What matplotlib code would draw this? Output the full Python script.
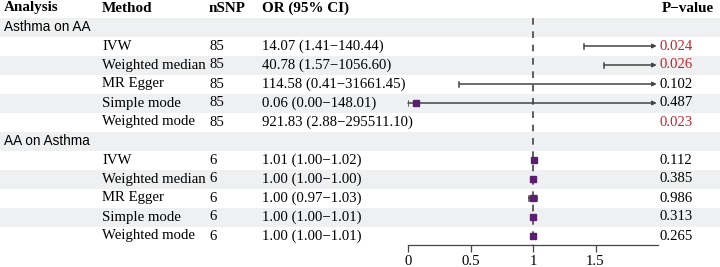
import matplotlib
matplotlib.use("Agg")
import matplotlib.pyplot as plt
from matplotlib.patches import Rectangle

# ---------------- data ----------------
groups = ["Asthma on AA", "AA on Asthma"]
methods = ["IVW", "Weighted median", "MR Egger", "Simple mode", "Weighted mode"]
nsnp_g1 = [85, 85, 85, 85, 85]
nsnp_g2 = [6, 6, 6, 6, 6]
or_g1 = [14.07, 40.78, 114.58, 0.06, 921.83]
lo_g1 = [1.41, 1.57, 0.41, 0.00, 2.88]
hi_g1 = [140.44, 1056.60, 31661.45, 148.01, 295511.10]
or_g2 = [1.01, 1.00, 1.00, 1.00, 1.00]
lo_g2 = [1.00, 1.00, 0.97, 1.00, 1.00]
hi_g2 = [1.02, 1.00, 1.03, 1.01, 1.01]
ortxt_g1 = ["14.07 (1.41\u2212140.44)", "40.78 (1.57\u22121056.60)",
            "114.58 (0.41\u221231661.45)", "0.06 (0.00\u2212148.01)",
            "921.83 (2.88\u2212295511.10)"]
ortxt_g2 = ["1.01 (1.00\u22121.02)", "1.00 (1.00\u22121.00)", "1.00 (0.97\u22121.03)",
            "1.00 (1.00\u22121.01)", "1.00 (1.00\u22121.01)"]
p_g1 = ["0.024", "0.026", "0.102", "0.487", "0.023"]
p_g2 = ["0.112", "0.385", "0.986", "0.313", "0.265"]
headers = ["Analysis", "Method", "nSNP", "OR (95% CI)", "P\u2212value"]
xticks = [0, 0.5, 1, 1.5]

# ---------------- layout ----------------
W, H = 720, 267
serif = ["Liberation Serif", "DejaVu Serif"]
sans = ["Liberation Sans", "DejaVu Sans"]
fs = 10.6
row_h = 19
row0 = 27
col_x = {"analysis": 4, "method": 102, "nsnp": 209, "or": 262, "p": 660}
band_col = "#eef0f2"
red = "#c0262d"
purple = "#5a1f6e"
grey = "#444444"
xmax = 2.0

fig = plt.figure(figsize=(W / 100, H / 100), dpi=100)
bg = fig.add_axes([0, 0, 1, 1])
bg.set_xlim(0, W)
bg.set_ylim(H, 0)
bg.axis("off")

rows = []
rows.append(dict(kind="group", label=groups[0]))
for i in range(5):
    rows.append(dict(kind="item", m=methods[i], n=nsnp_g1[i], t=ortxt_g1[i], p=p_g1[i],
                     est=or_g1[i], lo=lo_g1[i], hi=hi_g1[i]))
rows.append(dict(kind="group", label=groups[1]))
for i in range(5):
    rows.append(dict(kind="item", m=methods[i], n=nsnp_g2[i], t=ortxt_g2[i], p=p_g2[i],
                     est=or_g2[i], lo=lo_g2[i], hi=hi_g2[i]))

ycent = [row0 + row_h * i for i in range(len(rows))]

for i, y in enumerate(ycent):
    if i % 2 == 0:
        bg.add_patch(Rectangle((0, y - row_h / 2), W, row_h, color=band_col, lw=0, zorder=0))

hy = 8
for key, h in zip(["analysis", "method", "nsnp", "or"], headers[:4]):
    bg.text(col_x[key], hy, h, fontfamily=serif, fontweight="bold", fontsize=fs + 0.3,
            va="center", ha="left")
bg.text(col_x["p"] + 2, hy, headers[4], fontfamily=serif, fontweight="bold", fontsize=fs + 0.3,
        va="center", ha="left")

for r, y in zip(rows, ycent):
    if r["kind"] == "group":
        bg.text(col_x["analysis"], y, r["label"], fontfamily=sans, fontsize=9.8,
                va="center", ha="left")
    else:
        bg.text(col_x["method"], y, r["m"], fontfamily=serif, fontsize=fs, va="center")
        bg.text(col_x["nsnp"], y, str(r["n"]), fontfamily=serif, fontsize=fs, va="center")
        bg.text(col_x["or"], y, r["t"], fontfamily=serif, fontsize=fs, va="center")
        pc = red if float(r["p"]) < 0.05 else "black"
        bg.text(col_x["p"], y, r["p"], fontfamily=serif, fontsize=fs, va="center", color=pc)

axl, axr, axb = 408, 658, 245
ax = fig.add_axes([axl / W, (H - axb) / H, (axr - axl) / W, axb / H])
ax.patch.set_alpha(0)
ax.set_xlim(0, xmax)
ax.set_ylim(axb, 0)
for s in ["top", "right", "left"]:
    ax.spines[s].set_visible(False)
ax.spines["bottom"].set_color(grey)
ax.spines["bottom"].set_linewidth(0.9)
ax.set_yticks([])
ax.set_xticks(xticks)
ax.set_xticklabels([f"{t:g}" for t in xticks], fontfamily=serif, fontsize=fs)
ax.tick_params(axis="x", direction="out", length=5, width=0.9, color=grey, pad=2.5)

ax.plot([1, 1], [row0 - row_h / 2, axb], ls=(0, (4, 4)), color=grey, lw=1.2, zorder=1)

for r, y in zip(rows, ycent):
    if r["kind"] != "item":
        continue
    lo, hi, est = r["lo"], r["hi"], r["est"]
    if lo >= xmax:
        continue
    if hi > xmax:
        ax.annotate("", xy=(xmax - 0.01, y), xytext=(lo, y),
                    arrowprops=dict(arrowstyle="-|>", color=grey, lw=1.1,
                                    mutation_scale=6, shrinkA=0, shrinkB=0), zorder=2)
    else:
        ax.plot([lo, hi], [y, y], color=grey, lw=1.1, zorder=2)
        ax.plot([hi, hi], [y - 2.5, y + 2.5], color=grey, lw=1.1, zorder=2)
    ax.plot([lo, lo], [y - 2.5, y + 2.5], color=grey, lw=1.1, zorder=2)
    if est <= xmax:
        ax.plot(est, y, marker="s", ms=4.5, color=purple, zorder=3, ls="none")

fig.savefig("out.png", dpi=100)
